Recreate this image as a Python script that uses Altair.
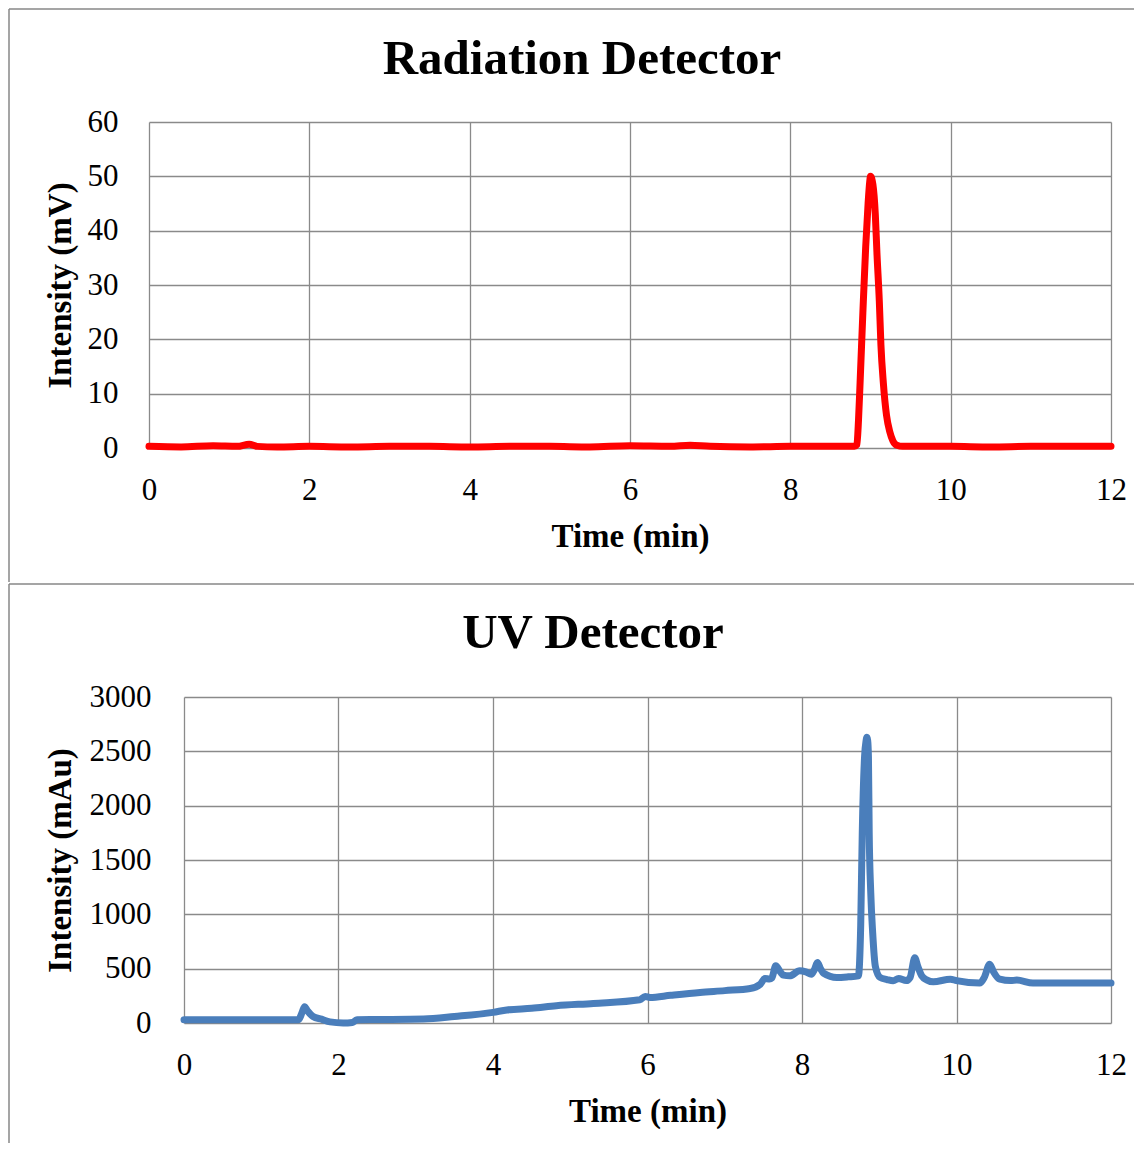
import altair as alt
import pandas as pd

# ---------------- data ----------------
rad_time = [0.0, 0.4, 0.8, 1.1, 1.25, 1.35, 1.6, 2.0, 2.5, 3.0, 3.5, 4.0, 4.5, 5.0, 5.5,
            6.0, 6.5, 6.75, 7.0, 7.5, 8.0, 8.5, 8.80, 8.83, 8.85, 8.87, 8.905, 8.94,
            8.97, 8.99, 9.00, 9.03, 9.06, 9.08, 9.11, 9.13, 9.16, 9.20, 9.24, 9.28,
            9.33, 9.40, 10.0, 10.5, 11.0, 11.5, 12.0]
rad_mv = [0.3, 0.2, 0.4, 0.3, 0.7, 0.3, 0.2, 0.3, 0.2, 0.3, 0.3, 0.2, 0.3, 0.3, 0.2,
          0.4, 0.3, 0.5, 0.3, 0.2, 0.3, 0.3, 0.3, 0.6, 5.0, 12.0, 25.0, 37.0,
          45.0, 49.0, 50.0, 48.5, 43.0, 36.0, 27.0, 19.0, 12.0, 6.0, 3.0, 1.3,
          0.5, 0.3, 0.3, 0.2, 0.3, 0.3, 0.3]

uv_time = [0.0, 1.48, 1.53, 1.56, 1.60, 1.67, 1.78, 1.89, 2.06, 2.18, 2.24, 2.5, 3.1,
           3.5, 4.0, 4.18, 4.5, 4.82, 5.3, 5.9, 5.97, 6.03, 6.3, 6.68, 7.0, 7.33, 7.46,
           7.52, 7.58, 7.61, 7.66, 7.72, 7.76, 7.84, 7.97, 8.05, 8.12, 8.16, 8.20, 8.24,
           8.28, 8.45, 8.6, 8.73, 8.76, 8.78, 8.81, 8.83, 8.84, 8.85, 8.86, 8.87, 8.89,
           8.915, 8.95, 9.01, 9.1, 9.18, 9.25, 9.35, 9.40, 9.46, 9.50, 9.55, 9.62, 9.70,
           9.92, 10.0, 10.30, 10.36, 10.43, 10.48, 10.56, 10.7, 10.78, 10.99, 12.0]
uv_mau = [30, 30, 100, 150, 110, 60, 35, 10, 0, 5, 30, 32, 37,
          60, 98, 120, 135, 159, 180, 214, 245, 235, 255, 281, 298, 318, 357,
          410, 405, 415, 526, 470, 440, 434, 480, 470, 449, 490, 556, 500,
          458, 419, 425, 434, 900, 1748, 2450, 2600, 2630, 2600, 2450, 1748, 1200,
          831, 520, 420, 400, 388, 410, 390, 420, 600, 520, 434, 395, 379,
          403, 390, 367, 420, 541, 470, 403, 390, 395, 367, 367]

x_ticks = [0, 2, 4, 6, 8, 10, 12]
rad_y_ticks = [0, 10, 20, 30, 40, 50, 60]
uv_y_ticks = [0, 500, 1000, 1500, 2000, 2500, 3000]

titles = ["Radiation Detector", "UV Detector"]

# ---------------- styling ----------------
FONT = "Liberation Serif"
GRID = "#8a8a8a"
BORDER = "#878787"
W, H = 962, 326


def panel(df, color, ymax, yticks, ytitle, title, title_x, title_y,
          x_lo, y_off, lab_pad, ytitle_x, left_y2):
    one = pd.DataFrame({"label": [title]})
    xs = alt.Scale(domain=[0, 12], nice=False, zero=False, range=[x_lo, W])
    ys = alt.Scale(domain=[0, ymax], nice=False, zero=True)
    line = alt.Chart(df).mark_line(
        color=color, strokeWidth=7, strokeJoin="round", strokeCap="round",
        interpolate="monotone"
    ).encode(
        x=alt.X("t:Q", scale=xs, axis=alt.Axis(
            values=x_ticks, title="Time (min)", grid=True, gridColor=GRID,
            gridWidth=1.3, domain=False, ticks=False, labelFont=FONT,
            labelFontSize=31, labelColor="black", labelBaseline="alphabetic",
            labelPadding=51, labelFlush=False, titleFont=FONT, titleFontSize=33,
            titleFontWeight="bold", titleColor="black", titleBaseline="alphabetic",
            titleY=98)),
        y=alt.Y("v:Q", scale=ys, axis=alt.Axis(
            values=yticks, format="d", title=ytitle, grid=True, gridColor=GRID,
            gridWidth=1.3, domain=False, ticks=False, offset=y_off, labelFont=FONT,
            labelFontSize=31, labelColor="black", labelPadding=lab_pad,
            labelFlush=False, titleFont=FONT, titleFontSize=33,
            titleFontWeight="bold", titleColor="black", titleAngle=270,
            titleBaseline="alphabetic", titleX=ytitle_x)),
    )
    head = alt.Chart(one).mark_text(
        font=FONT, fontSize=49, fontWeight="bold", color="black",
        align="center", baseline="alphabetic"
    ).encode(x=alt.value(title_x), y=alt.value(title_y), text="label:N")
    top_rule = alt.Chart(one).mark_rule(color=BORDER, strokeWidth=1.5).encode(
        x=alt.value(-140), x2=alt.value(985), y=alt.value(-113))
    left_rule = alt.Chart(one).mark_rule(color=BORDER, strokeWidth=1.5).encode(
        x=alt.value(-140), y=alt.value(-113), y2=alt.value(left_y2))
    return alt.layer(line, head, top_rule, left_rule).properties(width=W, height=H)


rad_df = pd.DataFrame({"t": rad_time, "v": rad_mv})
uv_df = pd.DataFrame({"t": uv_time, "v": uv_mau})

top = panel(rad_df, "#ff0000", 60, rad_y_ticks, "Intensity (mV)", titles[0],
            433, -48, 0, 0, 31, -79, 460)
bottom = panel(uv_df, "#4a7ebb", 3000, uv_y_ticks, "Intensity (mAu)", titles[1],
               444, -49, 35, -35, 33, -114, 446)

chart = alt.vconcat(top, bottom, spacing=0).properties(
    padding=0, background="white"
).configure_view(stroke=None)

chart.save("out.html", embed_options={"renderer": "svg", "actions": False})
